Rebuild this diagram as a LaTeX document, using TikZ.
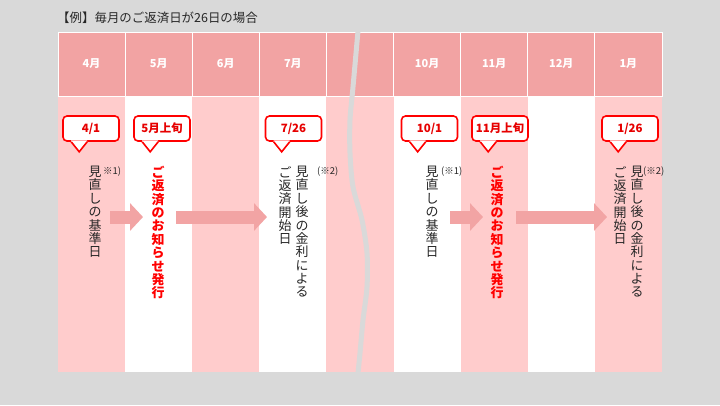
\documentclass[tikz,border=0pt]{standalone}
\usepackage{fontspec}
\setmainfont{Noto Sans CJK JP}
\usetikzlibrary{arrows.meta, calc}
\definecolor{bggray}{RGB}{217,217,217}
\definecolor{headpink}{RGB}{242,163,163}
\definecolor{bodypink}{RGB}{255,204,204}
\definecolor{arrowpink}{RGB}{242,164,164}
\definecolor{callred}{RGB}{230,0,0}
\definecolor{notered}{RGB}{255,0,0}
\definecolor{textgray}{RGB}{38,38,38}

\begin{document}
\begin{tikzpicture}[x=1bp, y=-1bp,
  monthcell/.style={draw=white, line width=0.8bp, fill=headpink,
    minimum width=67.1bp, minimum height=64bp, inner sep=0pt,
    text=white, font=\fontsize{11}{13}\selectfont\bfseries},
  bodycol/.style={minimum width=67.1bp, minimum height=275bp, inner sep=0pt},
  callbox/.style={draw=notered, line width=1.6bp, fill=white, rounded corners=4bp,
    minimum width=56bp, minimum height=25bp, inner sep=0pt,
    text=callred, font=\fontsize{11.5}{13}\selectfont\bfseries},
  callline/.style={draw=notered, line width=1.6bp, line join=miter},
  vtext/.style={anchor=north, align=center, inner sep=0pt,
    text=textgray, font=\fontsize{13}{13.4}\selectfont},
  vred/.style={vtext, text=notered, font=\fontsize{13}{13.4}\selectfont\bfseries},
  notemark/.style={anchor=west, inner sep=0pt, text=textgray,
    font=\fontsize{9.5}{10}\selectfont},
  bigarrow/.style={arrowpink, line width=13bp,
    -{Triangle[length=13bp, width=27bp]}},
  wave/.style={bggray, line width=5bp}]

  % Background and frame
  \fill[bggray] (0,0) rectangle (720,405);
  \useasboundingbox (0,0) rectangle (720,405);

  % Title
  \node[anchor=west, inner sep=0pt, text=textgray,
        font=\fontsize{12.5}{14}\selectfont] (title) at (57,18)
        {【例】毎月のご返済日が26日の場合};

  % Month columns
  \foreach \i/\m/\f in {0/4月/bodypink, 1/5月/white, 2/6月/bodypink,
                        3/7月/white, 4//bodypink, 5/10月/white,
                        6/11月/bodypink, 7/12月/white, 8/1月/bodypink} {
    \node[bodycol, fill=\f] (body\i) at ({91.55+67.1*\i},234.5) {};
    \node[monthcell] (head\i) at ({91.55+67.1*\i},64) {\m};
  }

  % Break between July and October
  \draw[wave] plot[smooth] coordinates {(358,31) (353,87) (350,120) (350,153)
    (353,187) (362,220) (367,253) (367,287) (363,320) (360,353) (358,373)};

  % Callouts
  \foreach \n/\x/\t in {call1/91/{4/1}, call2/162/{5月上旬}, call3/293.5/{7/26},
                        call4/429.5/{10/1}, call5/500/{11月上旬}, call6/630/{1/26}} {
    \node[callbox] (\n) at (\x,128.5) {\t};
    \fill[white] ($(\n.south west)+(9,-1.5)$) -- ($(\n.south west)+(9,0)$)
      -- ($(\n.south west)+(17,10)$) -- ($(\n.south west)+(25,0)$)
      -- ($(\n.south west)+(25,-1.5)$) -- cycle;
    \draw[callline] ($(\n.south west)+(9,0)$) -- ($(\n.south west)+(17,10)$)
      -- ($(\n.south west)+(25,0)$);
  }

  % First half: April to July
  \node[vtext] (kijun1) at (95,166) {見\\直\\し\\の\\基\\準\\日};
  \node[notemark] (note1) at (103,172) {※1)};
  \node[vred] (notice1) at (158,166) {ご\\返\\済\\の\\お\\知\\ら\\せ\\発\\行};
  \node[vtext] (rate1) at (302,166) {見\\直\\し\\後\\の\\金\\利\\に\\よ\\る};
  \node[vtext] (start1) at (285,166) {ご\\返\\済\\開\\始\\日};
  \node[notemark] (note2) at (317,172) {(※2)};

  % Second half: October to January
  \node[vtext] (kijun2) at (432,166) {見\\直\\し\\の\\基\\準\\日};
  \node[notemark] (note3) at (441,172) {(※1)};
  \node[vred] (notice2) at (497,166) {ご\\返\\済\\の\\お\\知\\ら\\せ\\発\\行};
  \node[vtext] (rate2) at (637,166) {見\\直\\し\\後\\の\\金\\利\\に\\よ\\る};
  \node[vtext] (start2) at (620,166) {ご\\返\\済\\開\\始\\日};
  \node[notemark] (note4) at (643,172) {(※2)};

  % Arrows
  \coordinate (a1s) at (110,217); \coordinate (a1e) at (143,217);
  \coordinate (a2s) at (176,217); \coordinate (a2e) at (267,217);
  \coordinate (a3s) at (450,217); \coordinate (a3e) at (483,217);
  \coordinate (a4s) at (516,217); \coordinate (a4e) at (607,217);
  \draw[bigarrow] (a1s) -- (a1e);
  \draw[bigarrow] (a2s) -- (a2e);
  \draw[bigarrow] (a3s) -- (a3e);
  \draw[bigarrow] (a4s) -- (a4e);
\end{tikzpicture}
\end{document}
